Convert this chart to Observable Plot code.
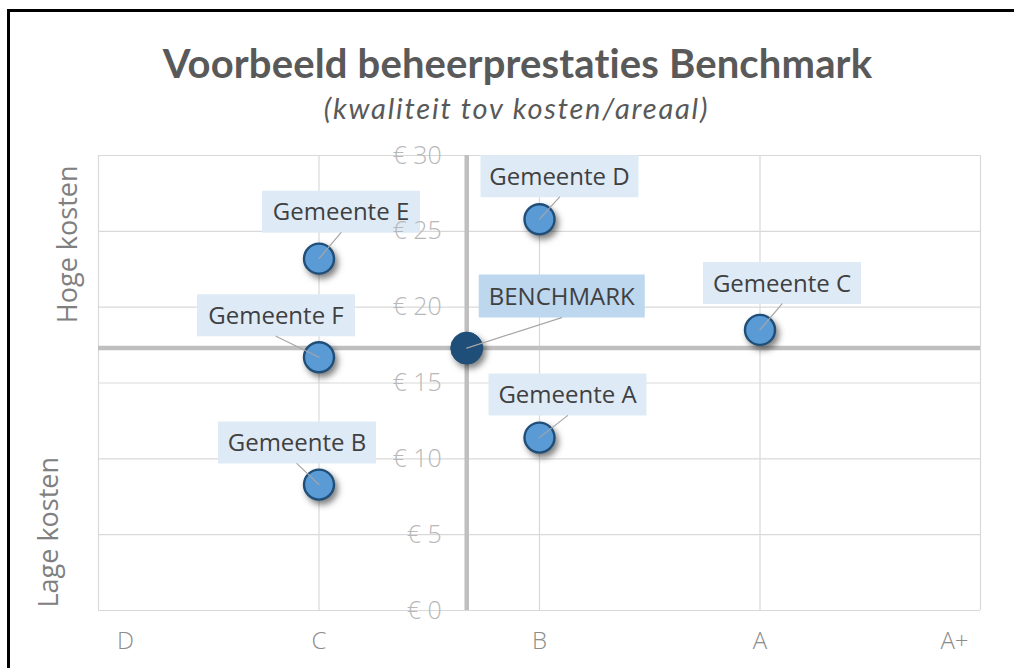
<!DOCTYPE html>
<html>
<head>
<meta charset="utf-8">
<script src="https://cdn.jsdelivr.net/npm/d3@7"></script>
<script src="https://cdn.jsdelivr.net/npm/@observablehq/plot@0.6"></script>
<style>
  html, body { margin: 0; padding: 0; background: #fff; }
  body { width: 1014px; height: 668px; position: relative; overflow: hidden; }
  #frame { position: absolute; left: 7px; top: 9px; width: 1100px; height: 700px;
           border-top: 3px solid #000; border-left: 3px solid #000; }
  #title { position: absolute; left: 0; width: 1035px; top: 40px; text-align: center;
           font-family: Lato, "Open Sans", sans-serif; font-weight: bold; font-size: 40px;
           letter-spacing: 0.15px; line-height: 46px; color: #595959; }
  #subtitle { position: absolute; left: 0; width: 1033px; top: 92px; text-align: center;
           font-family: Lato, "Open Sans", sans-serif; font-style: italic; font-size: 29px;
           letter-spacing: 1.8px; line-height: 32px; color: #595959; }
  #chart { position: absolute; left: 0; top: 0; }
  #chart svg circle { filter: drop-shadow(3px 4px 3px rgba(0,0,0,0.5)); }
</style>
</head>
<body>
<div id="frame"></div>
<div id="chart"></div>
<div id="title">Voorbeeld beheerprestaties Benchmark</div>
<div id="subtitle">(kwaliteit tov kosten/areaal)</div>
<script>
// ---- data ----
const categories = ["D", "C", "B", "A", "A+"];
const names = ["Gemeente A", "Gemeente B", "Gemeente C", "Gemeente D", "Gemeente E", "Gemeente F"];
const quality = ["B", "C", "A", "B", "C", "C"];
const cost = [11.4, 8.3, 18.5, 25.8, 23.2, 16.7];
const benchmarkName = "BENCHMARK";
const benchmarkQuality = 1.67;   // position on the quality axis, between C and B
const benchmarkCost = 17.3;
const costTicks = [0, 5, 10, 15, 20, 25, 30];
const costLabel = v => "€ " + v;

// ---- layout (label box offsets from their point, in pixels) ----
const labelOffsets = {
  "Gemeente A": [28, -43],
  "Gemeente B": [-22, -42],
  "Gemeente C": [22, -47],
  "Gemeente D": [20, -43],
  "Gemeente E": [22, -47],
  "Gemeente F": [-43, -42],
  "BENCHMARK": [95, -52]
};

const qIndex = q => categories.indexOf(q);
const points = names.map((n, i) => ({name: n, q: qIndex(quality[i]), cost: cost[i], bench: false}));
const bench = {name: benchmarkName, q: benchmarkQuality, cost: benchmarkCost, bench: true};
const all = [...points, bench];

function rectSymbol(w, h) {
  return { draw(ctx) { ctx.rect(-w / 2, -h / 2, w, h); } };
}

const labelMarks = all.map(d => {
  const [ox, oy] = labelOffsets[d.name];
  const w = d.bench ? 166 : 158, h = d.bench ? 43 : 42;
  return Plot.dot([d], {x: "q", y: "cost", symbol: rectSymbol(w, h), r: 10,
    fill: d.bench ? "#bdd7ee" : "#deebf7", stroke: null, dx: ox, dy: oy});
});
const textMarks = all.map(d => {
  const [ox, oy] = labelOffsets[d.name];
  return Plot.text([d], {x: "q", y: "cost", text: "name", dx: ox, dy: oy + 1,
    fill: "#404040", fontSize: 24, fontFamily: "'Open Sans', sans-serif"});
});

const halfH = d => d.bench ? 21.5 : 21;
const leader = Plot.vector(all, {
  x: "q", y: "cost", anchor: "start", r: 0,
  length: d => { const [ox, oy] = labelOffsets[d.name]; return Math.hypot(ox, oy + halfH(d)); },
  rotate: d => { const [ox, oy] = labelOffsets[d.name]; return Math.atan2(ox, -(oy + halfH(d))) * 180 / Math.PI; },
  stroke: "#a6a6a6", strokeWidth: 1.2
});

const tickFont = {fill: "#8c8c8c", fontSize: 24, fontFamily: "'Open Sans', sans-serif", fontWeight: 300};

const chart = Plot.plot({
  width: 1014, height: 668,
  marginLeft: 98, marginRight: 34, marginTop: 155, marginBottom: 58,
  x: {domain: [0, categories.length - 1], axis: null},
  y: {domain: [0, 30], axis: null},
  length: {type: "identity"},
  style: {background: "transparent", overflow: "visible"},
  marks: [
    Plot.gridX(d3.range(categories.length), {stroke: "#d9d9d9", strokeOpacity: 1, strokeWidth: 1.2}),
    Plot.gridY(costTicks, {stroke: "#d9d9d9", strokeOpacity: 1, strokeWidth: 1.2}),
    Plot.ruleY([benchmarkCost], {stroke: "#bfbfbf", strokeWidth: 4.5}),
    Plot.ruleX([benchmarkQuality], {y1: 0, y2: 30, stroke: "#bfbfbf", strokeWidth: 4.5}),
    ...labelMarks,
    Plot.text(costTicks, {x: () => benchmarkQuality, y: d => d, text: costLabel, textAnchor: "end", dx: -25,
      fill: "#b8b8b8", fontSize: 25, fontFamily: "'Open Sans', sans-serif", fontWeight: 300,
      letterSpacing: 0.8}),
    Plot.dot(points, {x: "q", y: "cost", r: 15, fill: "#5b9bd5", stroke: "#1f4e79", strokeWidth: 2.4}),
    Plot.dot([bench], {x: "q", y: "cost", r: 16, fill: "#1f4e79", stroke: "#1f4e79", strokeWidth: 1}),
    leader,
    ...textMarks,
    Plot.text(categories.slice(1, -1), {x: d => qIndex(d), y: () => 0, dy: 31, text: d => d, ...tickFont}),
    Plot.text([categories[0]], {x: d => qIndex(d), y: () => 0, dx: 27, dy: 31, text: d => d, ...tickFont}),
    Plot.text([categories[categories.length - 1]], {x: d => qIndex(d), y: () => 0, dx: -26, dy: 31, text: d => d, ...tickFont}),
    Plot.text(["Hoge kosten"], {frameAnchor: "top-left", rotate: -90, textAnchor: "end", dx: -41, dy: 10,
      text: d => d, fill: "#808080", fontSize: 27, fontFamily: "'Open Sans', sans-serif"}),
    Plot.text(["Lage kosten"], {frameAnchor: "bottom-left", rotate: -90, textAnchor: "start", dx: -41, dy: -3,
      text: d => d, fill: "#808080", fontSize: 27, fontFamily: "'Open Sans', sans-serif"})
  ]
});
document.getElementById("chart").appendChild(chart);
</script>
</body>
</html>
